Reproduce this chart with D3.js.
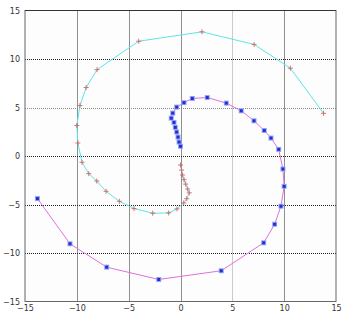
<!DOCTYPE html>
<html><head><meta charset="utf-8">
<script src="https://cdn.jsdelivr.net/npm/d3@7"></script>
<style>html,body{margin:0;padding:0;background:#fff;overflow:hidden}svg{display:block}</style>
</head><body>
<script>
const xTicks = [-15, -10, -5, 0, 5, 10, 15];
const yTicks = [-15, -10, -5, 0, 5, 10, 15];
const cyanX = [0.0, 0.1, 0.2, 0.34, 0.5, 0.69, 0.85, 0.6, 0.31, -0.34, -1.14, -2.68, -4.48, -5.9, -7.18, -8.08, -8.85, -9.5, -9.9, -10.0, -9.7, -9.1, -8.05, -4.03, 2.07, 7.1, 10.6, 13.8];
const cyanY = [-0.93, -1.45, -1.96, -2.44, -2.9, -3.4, -3.8, -4.4, -4.84, -5.45, -5.87, -5.9, -5.42, -4.67, -3.64, -2.58, -1.82, -0.65, 1.34, 3.15, 5.2, 7.06, 8.9, 11.83, 12.8, 11.5, 9.05, 4.4];
const magX = [0.0, -0.14, -0.24, -0.37, -0.5, -0.63, -0.89, -0.75, -0.37, 0.34, 1.14, 2.58, 4.42, 5.86, 7.09, 8.08, 8.73, 9.47, 9.88, 10.0, 9.69, 9.08, 8.02, 3.93, -2.1, -7.12, -10.66, -13.8];
const magY = [1.0, 1.44, 1.95, 2.47, 2.95, 3.46, 3.9, 4.42, 5.04, 5.5, 5.93, 6.03, 5.45, 4.66, 3.63, 2.63, 1.85, 0.68, -1.34, -3.13, -5.18, -7.04, -8.95, -11.83, -12.73, -11.46, -9.05, -4.39];

const W = 342, H = 312;
const svg = d3.select("body").append("svg").attr("width", W).attr("height", H);
const x = d3.scaleLinear().domain([-15, 15]).range([25, 336]);
const y = d3.scaleLinear().domain([-15, 15]).range([301.5, 10.5]);

svg.append("rect").attr("x", x(-15)).attr("y", y(15)).attr("width", x(15) - x(-15)).attr("height", y(-15) - y(15)).attr("fill", "#fdfdfd");

const grid = svg.append("g");
xTicks.slice(1, -1).forEach(t => {
  grid.append("line").attr("x1", Math.round(x(t)) + 0.5).attr("x2", Math.round(x(t)) + 0.5)
    .attr("y1", y(15)).attr("y2", y(-15))
    .attr("stroke", t === 5 ? "#999" : "#222").attr("stroke-width", 1).attr("stroke-dasharray", "1,1");
});
yTicks.slice(1, -1).forEach(t => {
  grid.append("line").attr("y1", Math.round(y(t)) + 0.5).attr("y2", Math.round(y(t)) + 0.5)
    .attr("x1", x(-15)).attr("x2", x(15))
    .attr("stroke", t === 5 ? "#888" : "#222").attr("stroke-width", 1).attr("stroke-dasharray", "1,1");
});

// frame
svg.append("rect").attr("x", x(-15)).attr("y", y(15)).attr("width", x(15) - x(-15)).attr("height", y(-15) - y(15))
  .attr("fill", "none").attr("stroke", "#666").attr("stroke-width", 1);
svg.append("line").attr("x1", x(-15)).attr("x2", x(15)).attr("y1", y(15)).attr("y2", y(15)).attr("stroke", "#333").attr("stroke-width", 1.2);

// axes labels
const yAxis = d3.axisLeft(y).tickValues(yTicks).tickSize(0).tickPadding(5);
const gy = svg.append("g").attr("transform", `translate(${x(-15)},0)`).call(yAxis);
gy.select(".domain").remove();
gy.selectAll("text").attr("font-family", "DejaVu Sans").attr("font-size", 8).attr("fill", "#333");
const xAxis = d3.axisBottom(x).tickValues(xTicks).tickSize(0).tickPadding(3.5);
const gx = svg.append("g").attr("transform", `translate(0,${y(-15)})`).call(xAxis);
gx.select(".domain").remove();
gx.selectAll("text").attr("font-family", "DejaVu Sans").attr("font-size", 8).attr("fill", "#333");

const line = d3.line().x(d => x(d[0])).y(d => y(d[1]));
const cyan = cyanX.map((v, i) => [v, cyanY[i]]);
const mag = magX.map((v, i) => [v, magY[i]]);

svg.append("path").datum(cyan).attr("d", line).attr("fill", "none").attr("stroke", "#5ce6e6").attr("stroke-width", 1);
svg.append("path").datum(mag).attr("d", line).attr("fill", "none").attr("stroke", "#e070e0").attr("stroke-width", 1);

// cyan markers: red plus
svg.append("g").selectAll("path").data(cyan).join("path")
  .attr("d", d => `M${x(d[0]) - 2.5},${y(d[1])}h5M${x(d[0])},${y(d[1]) - 2.5}v5`)
  .attr("stroke", "#d05a5a").attr("stroke-width", 1).attr("opacity", 0.85);

// magenta markers: blue squares
const mg = svg.append("g");
mg.selectAll("rect.o").data(mag).join("rect").attr("class", "o")
  .attr("x", d => x(d[0]) - 2.5).attr("y", d => y(d[1]) - 2.5).attr("width", 5).attr("height", 5)
  .attr("fill", "#8fa8f0");
mg.selectAll("rect.i").data(mag).join("rect").attr("class", "i")
  .attr("x", d => x(d[0]) - 1.5).attr("y", d => y(d[1]) - 1.5).attr("width", 3).attr("height", 3)
  .attr("fill", "#2a2ad8");
</script>
</body></html>
